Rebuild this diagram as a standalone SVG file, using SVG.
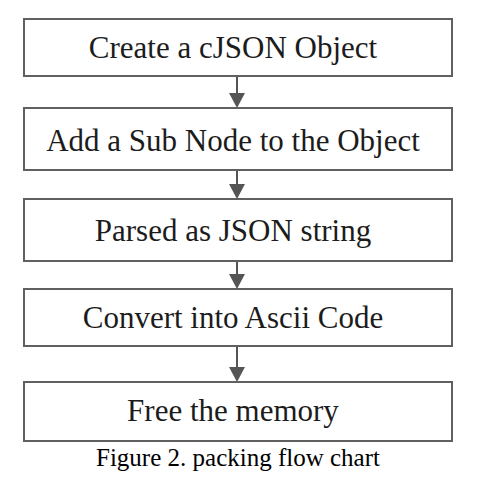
<svg xmlns="http://www.w3.org/2000/svg" width="480" height="482" viewBox="0 0 480 482">
  <defs>
    <style>
      .box { fill: #ffffff; stroke: #606060; stroke-width: 2; }
      .lbl { font-family: "Liberation Serif", "Times New Roman", serif; font-size: 31px; fill: #1c1c1c; text-anchor: middle; }
      .cap { font-family: "Liberation Serif", "Times New Roman", serif; font-size: 25px; fill: #000000; text-anchor: middle; }
      .conn { stroke: #555555; stroke-width: 2; fill: none; }
      .head { fill: #555555; stroke: none; }
    </style>
  </defs>
  <rect width="480" height="482" fill="#ffffff"/>
  <g id="connectors">
    <line class="conn" x1="237" y1="76" x2="237" y2="94"/>
    <polygon class="head" points="229,93 245,93 237,108"/>
    <line class="conn" x1="237" y1="170" x2="237" y2="185"/>
    <polygon class="head" points="229,184 245,184 237,199"/>
    <line class="conn" x1="237" y1="261" x2="237" y2="275"/>
    <polygon class="head" points="229,274 245,274 237,289"/>
    <line class="conn" x1="237" y1="346" x2="237" y2="368"/>
    <polygon class="head" points="229,367 245,367 237,382"/>
  </g>
  <g id="node1">
    <rect class="box" x="24" y="19" width="428" height="57"/>
    <text class="lbl" x="233" y="58">Create a cJSON Object</text>
  </g>
  <g id="node2">
    <rect class="box" x="24" y="108" width="428" height="62"/>
    <text class="lbl" x="233" y="151">Add a Sub Node to the Object</text>
  </g>
  <g id="node3">
    <rect class="box" x="24" y="199" width="428" height="62"/>
    <text class="lbl" x="233" y="241">Parsed as JSON string</text>
  </g>
  <g id="node4">
    <rect class="box" x="24" y="289" width="428" height="57"/>
    <text class="lbl" x="233" y="328">Convert into Ascii Code</text>
  </g>
  <g id="node5">
    <rect class="box" x="24" y="382" width="428" height="59"/>
    <text class="lbl" x="233" y="421">Free the memory</text>
  </g>
  <text class="cap" x="238" y="466">Figure 2. packing flow chart</text>
</svg>
